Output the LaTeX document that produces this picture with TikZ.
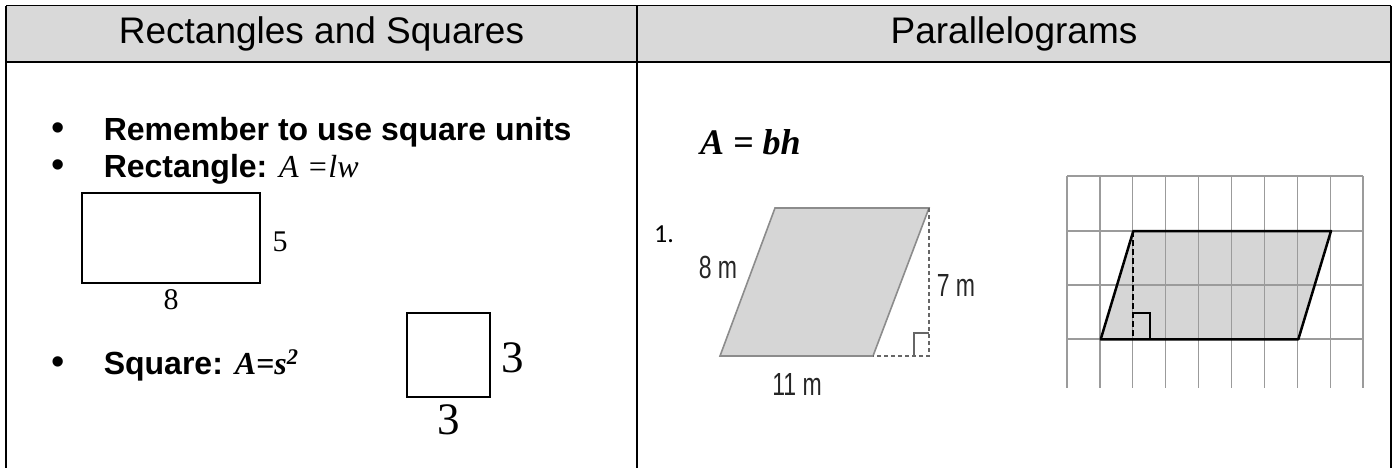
\documentclass[tikz,border=0pt]{standalone}
\usepackage{fontspec}
\setmainfont{Liberation Sans}
\newfontfamily\timesfont{Liberation Serif}
\newfontfamily\narrowfont[FakeStretch=0.72]{Liberation Sans}
\newfontfamily\numfont{Carlito}
\definecolor{headgray}{RGB}{217,217,217}
\definecolor{shadegray}{RGB}{214,214,214}
\definecolor{gridgray}{RGB}{155,155,155}
\begin{document}
\begin{tikzpicture}[x=1pt,y=-1pt,
  head/.style={font=\fontsize{37}{42}\selectfont},
  item/.style={anchor=base west,inner sep=0pt,font=\fontsize{32}{36}\selectfont\bfseries},
  dot/.style={anchor=base,inner sep=0pt,font=\fontsize{38}{40}\selectfont},
  side/.style={font=\timesfont\fontsize{30}{32}\selectfont,inner sep=0pt},
  big/.style={font=\timesfont\fontsize{45}{46}\selectfont,inner sep=0pt},
  meas/.style={font=\narrowfont\fontsize{32}{34}\selectfont,text=black!85,inner sep=0pt}]
\useasboundingbox (0,0) rectangle (1400,468);

% table
\fill[headgray] (6,6) rectangle (1391,62);
\draw[line width=1pt] (6,6) -- (1391,6);
\draw[line width=2pt] (6,62) -- (1391,62);
\foreach \x in {6,637,1391}
  \draw[line width=2pt] (\x,6) -- (\x,468);
\node[head] (headL) at (321.5,34) {Rectangles and Squares};
\node[head] (headR) at (1014,34) {Parallelograms};

% left cell
\foreach \y [count=\i] in {140,178,374}
  \node[dot] (dot\i) at (58,\y) {\textbullet};
\node[item] (line1) at (103.6,140) {Remember to use square units};
\node[item] (line2) at (103.6,178) {Rectangle: {\timesfont\mdseries\itshape A =lw}};
\node[item] (line3) at (103.6,374) {Square: {\timesfont\itshape A=s\textsuperscript{2}}};

\draw[line width=1.3pt] (82,193) rectangle (260,283);
\node[side] (rectH) at (280,242) {5};
\node[side] (rectW) at (171,300) {8};

\draw[line width=2pt] (407,313) rectangle (490,397);
\node[big] (sqH) at (513,358) {3};
\node[big] (sqW) at (448.5,420) {3};

% right cell
\node[anchor=base west,inner sep=0pt,font=\timesfont\fontsize{36}{40}\selectfont\bfseries\itshape] (formula) at (700,154) {A = bh};
\node[font=\numfont\fontsize{26}{28}\selectfont,inner sep=0pt] (num) at (664,234) {1.};

\filldraw[fill=shadegray,draw=black!45,line width=1.6pt]
  (775,208) -- (929,208) -- (873,356) -- (720,356) -- cycle;
\draw[black!60,line width=1.2pt,dash pattern=on 4pt off 3pt] (929,208) -- (929,356) -- (873,356);
\draw[black!60,line width=1.2pt] (914,356) -- (914,333) -- (929,333);
\node[meas] (side8) at (718,267) {8 m};
\node[meas] (side7) at (956,285) {7 m};
\node[meas] (side11) at (797,384) {11 m};

\fill[shadegray] (1100.7,339.3) -- (1298.3,339.3) -- (1331,231) -- (1133.3,231) -- cycle;
\foreach \k in {0,...,9}
  \draw[gridgray,line width=1.3pt] ({1067+32.9*\k},176) -- ({1067+32.9*\k},388);
\foreach \y in {176,231,285,339}
  \draw[gridgray,line width=1.3pt] (1067,\y) -- (1363,\y);
\draw[line width=2.5pt,line join=round]
  (1100.7,339.3) -- (1298.3,339.3) -- (1331,231) -- (1133.3,231) -- cycle;
\draw[line width=2pt,dash pattern=on 6pt off 3pt] (1133.3,231) -- (1133.3,339.3);
\draw[line width=1.8pt] (1133.3,312.7) -- (1150,312.7) -- (1150,339.3);
\end{tikzpicture}
\end{document}
